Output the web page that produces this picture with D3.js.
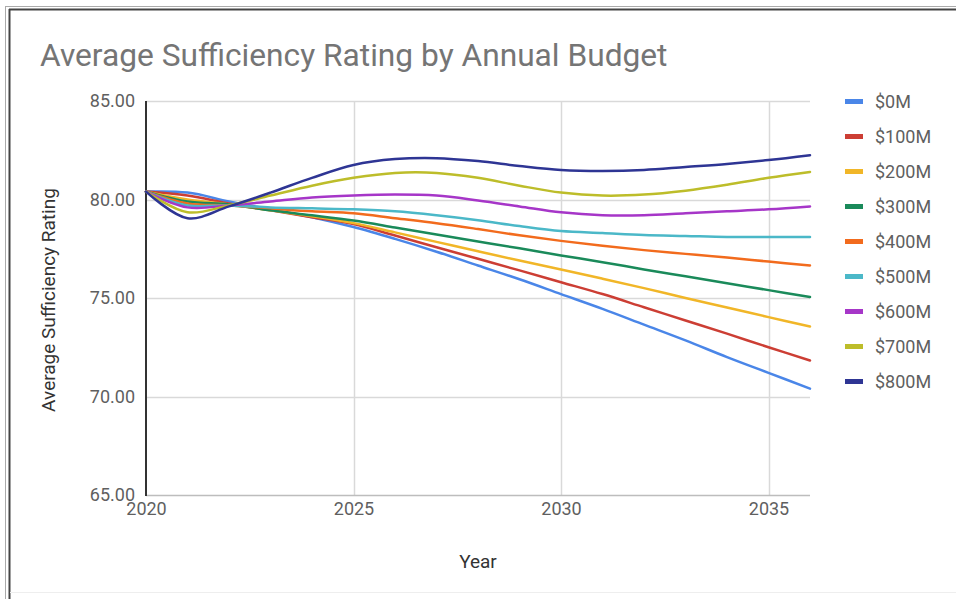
<!DOCTYPE html>
<html>
<head>
<meta charset="utf-8">
<script src="https://cdn.jsdelivr.net/npm/d3@7"></script>
<style>
  html, body { margin: 0; padding: 0; background: #fff; }
  svg { display: block; font-family: Roboto, "Noto Sans", Arial, sans-serif; }
</style>
</head>
<body>
<svg id="chart" width="956" height="599"></svg>
<script>
const years = [2020, 2021, 2022, 2023, 2024, 2025, 2026, 2027, 2028, 2029, 2030, 2031, 2032, 2033, 2034, 2035, 2036];
const seriesNames = ["$0M", "$100M", "$200M", "$300M", "$400M", "$500M", "$600M", "$700M", "$800M"];
const s0M   = [80.4, 80.35, 79.9, 79.5, 79.1, 78.6, 78.0, 77.35, 76.65, 75.95, 75.2, 74.45, 73.65, 72.85, 72.0, 71.2, 70.4];
const s100M = [80.4, 80.2, 79.8, 79.45, 79.1, 78.75, 78.17, 77.58, 76.99, 76.4, 75.8, 75.2, 74.53, 73.86, 73.19, 72.5, 71.83];
const s200M = [80.4, 80.0, 79.75, 79.45, 79.15, 78.8, 78.33, 77.85, 77.37, 76.9, 76.45, 75.98, 75.5, 75.0, 74.52, 74.03, 73.55];
const s300M = [80.4, 79.9, 79.75, 79.45, 79.2, 78.93, 78.58, 78.22, 77.87, 77.52, 77.16, 76.82, 76.45, 76.1, 75.75, 75.4, 75.05];
const s400M = [80.4, 79.8, 79.7, 79.55, 79.4, 79.3, 79.05, 78.8, 78.5, 78.18, 77.9, 77.65, 77.43, 77.24, 77.05, 76.85, 76.65];
const s500M = [80.4, 79.7, 79.7, 79.6, 79.55, 79.5, 79.4, 79.2, 78.95, 78.65, 78.4, 78.3, 78.2, 78.15, 78.1, 78.1, 78.1];
const s600M = [80.4, 79.6, 79.7, 79.9, 80.1, 80.2, 80.25, 80.2, 79.95, 79.65, 79.35, 79.2, 79.2, 79.3, 79.4, 79.5, 79.65];
const s700M = [80.4, 79.35, 79.7, 80.2, 80.7, 81.1, 81.35, 81.35, 81.1, 80.7, 80.35, 80.2, 80.25, 80.45, 80.75, 81.1, 81.4];
const s800M = [80.4, 79.05, 79.65, 80.35, 81.1, 81.75, 82.05, 82.1, 81.95, 81.7, 81.5, 81.45, 81.5, 81.65, 81.8, 82.0, 82.25];
const seriesValues = [s0M, s100M, s200M, s300M, s400M, s500M, s600M, s700M, s800M];
const colors = ["#4a86e8", "#cc3e34", "#f1b628", "#1a8a5a", "#f26b1d", "#4bb8c8", "#a636c8", "#bdbd2a", "#2e3594"];
const yTicks = [65, 70, 75, 80, 85];
const xTicks = [2020, 2025, 2030, 2035];
const titleText = "Average Sufficiency Rating by Annual Budget";
const xTitle = "Year";
const yTitle = "Average Sufficiency Rating";

const svg = d3.select("#chart");

// outer frame
svg.append("line").attr("x1", 5.5).attr("x2", 5.5).attr("y1", 6).attr("y2", 599).attr("stroke", "#aaa").attr("stroke-width", 1);
svg.append("line").attr("x1", 5).attr("x2", 956).attr("y1", 6.5).attr("y2", 6.5).attr("stroke", "#aaa").attr("stroke-width", 1);
svg.append("line").attr("x1", 9.5).attr("x2", 9.5).attr("y1", 9).attr("y2", 599).attr("stroke", "#444").attr("stroke-width", 2);
svg.append("line").attr("x1", 9).attr("x2", 956).attr("y1", 9.5).attr("y2", 9.5).attr("stroke", "#444").attr("stroke-width", 2);
svg.append("line").attr("x1", 10).attr("x2", 956).attr("y1", 592.5).attr("y2", 592.5).attr("stroke", "#eee").attr("stroke-width", 1);

const mLeft = 146, mRight = 810, mTop = 101, mBottom = 495;
const x = d3.scaleLinear().domain([2020, 2036]).range([mLeft, mRight]);
const y = d3.scaleLinear().domain([65, 85]).range([mBottom, mTop]);

// title
svg.append("text").attr("x", 40).attr("y", 66)
  .attr("font-size", 31.7).attr("fill", "#757575").text(titleText);

// gridlines
const grid = svg.append("g");
grid.selectAll(".hg").data(yTicks.filter(d => d !== 65)).enter().append("line")
  .attr("x1", mLeft).attr("x2", mRight)
  .attr("y1", d => Math.round(y(d)) + 0.5).attr("y2", d => Math.round(y(d)) + 0.5)
  .attr("stroke", "#d9d9d9").attr("stroke-width", 1.5);
grid.selectAll(".vg").data(xTicks.filter(d => d !== 2020)).enter().append("line")
  .attr("x1", d => Math.round(x(d)) + 0.5).attr("x2", d => Math.round(x(d)) + 0.5)
  .attr("y1", mTop).attr("y2", mBottom)
  .attr("stroke", "#d9d9d9").attr("stroke-width", 1.5);

// baseline
svg.append("line").attr("x1", mLeft).attr("x2", mRight).attr("y1", mBottom + 0.5).attr("y2", mBottom + 0.5)
  .attr("stroke", "#bdbdbd").attr("stroke-width", 1.5);

// y axis
const yAxis = d3.axisLeft(y).tickValues(yTicks).tickFormat(d3.format(".2f")).tickSize(0).tickPadding(11);
const gy = svg.append("g").attr("transform", `translate(${mLeft},0)`).call(yAxis);
gy.select(".domain").remove();
gy.selectAll("text").attr("font-size", 18).attr("fill", "#5f5f5f").attr("font-family", "Roboto");

// x axis
const xAxis = d3.axisBottom(x).tickValues(xTicks).tickFormat(d3.format("d")).tickSize(0).tickPadding(7);
const gx = svg.append("g").attr("transform", `translate(0,${mBottom})`).call(xAxis);
gx.select(".domain").remove();
gx.selectAll("text").attr("font-size", 18).attr("fill", "#5f5f5f").attr("font-family", "Roboto");

// left axis line
svg.append("line").attr("x1", mLeft).attr("x2", mLeft).attr("y1", mTop).attr("y2", mBottom + 1)
  .attr("stroke", "#333").attr("stroke-width", 2);

// axis titles
svg.append("text").attr("x", 478).attr("y", 568).attr("text-anchor", "middle")
  .attr("font-size", 19).attr("fill", "#333").text(xTitle);
svg.append("text").attr("transform", "translate(55,300) rotate(-90)").attr("text-anchor", "middle")
  .attr("font-size", 19).attr("fill", "#333").text(yTitle);

// lines
const line = d3.line().x((d, i) => x(years[i])).y(d => y(d)).curve(d3.curveCatmullRom.alpha(0.5));
svg.append("g").selectAll("path").data(seriesValues).enter().append("path")
  .attr("d", d => line(d)).attr("fill", "none")
  .attr("stroke", (d, i) => colors[i]).attr("stroke-width", 2.5)
  .attr("stroke-linejoin", "round").attr("stroke-linecap", "round");

// legend
const lg = svg.append("g").selectAll("g").data(seriesNames).enter().append("g")
  .attr("transform", (d, i) => `translate(845,${101.5 + i * 35})`);
lg.append("rect").attr("x", 0).attr("y", -2.5).attr("width", 18).attr("height", 5)
  .attr("fill", (d, i) => colors[i]);
lg.append("text").attr("x", 30).attr("y", 0).attr("dy", "0.35em")
  .attr("font-size", 18).attr("fill", "#5f5f5f").text(d => d);
</script>
</body>
</html>
